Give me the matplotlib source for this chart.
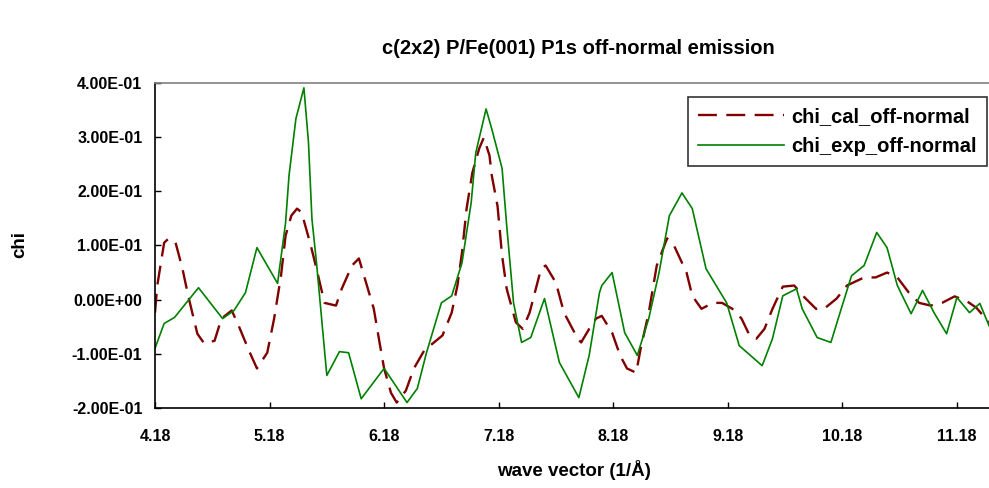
#!/usr/bin/env python3
"""
Plot P1s photoelectron diffraction chi(k), off-normal emission
- calculated vs experimental chi curves
"""

import matplotlib
matplotlib.use('Agg')
import matplotlib.pyplot as plt
from matplotlib.ticker import FuncFormatter

# calculated chi (dashed)
cal_k = [4.18, 4.20, 4.26, 4.30, 4.36, 4.42, 4.47, 4.55, 4.61, 4.70,
         4.76, 4.85, 4.91, 5.00, 5.07, 5.16, 5.22, 5.28, 5.32, 5.37,
         5.42, 5.46, 5.54, 5.59, 5.66, 5.76, 5.81, 5.90, 5.96, 6.03,
         6.09, 6.14, 6.18, 6.24, 6.29, 6.37, 6.44, 6.53, 6.69, 6.77,
         6.82, 6.86, 6.90, 6.95, 7.01, 7.05, 7.10, 7.12, 7.17, 7.21,
         7.25, 7.33, 7.39, 7.45, 7.55, 7.59, 7.68, 7.75, 7.87, 7.90,
         7.97, 8.03, 8.08, 8.17, 8.24, 8.30, 8.38, 8.42, 8.49, 8.56,
         8.65, 8.71, 8.82, 8.87, 8.95, 9.05, 9.13, 9.22, 9.30, 9.37,
         9.43, 9.50, 9.57, 9.66, 9.76, 9.85, 9.95, 10.02, 10.13, 10.22,
         10.37, 10.47, 10.57, 10.66, 10.76, 10.85, 10.95, 11.05, 11.16, 11.26,
         11.35, 11.46]
cal_chi = [-0.024, 0.026, 0.105, 0.113, 0.105, 0.057, 0.007, -0.063, -0.081, -0.076,
           -0.035, -0.020, -0.048, -0.094, -0.127, -0.098, -0.035, 0.044, 0.118, 0.155,
           0.168, 0.161, 0.100, 0.057, -0.006, -0.011, 0.020, 0.063, 0.076, 0.026,
           -0.017, -0.079, -0.127, -0.172, -0.190, -0.168, -0.127, -0.094, -0.066, -0.024,
           0.026, 0.087, 0.168, 0.234, 0.279, 0.299, 0.266, 0.229, 0.173, 0.081,
           0.020, -0.042, -0.054, -0.024, 0.057, 0.063, 0.031, -0.024, -0.072, -0.079,
           -0.054, -0.035, -0.030, -0.061, -0.103, -0.127, -0.135, -0.090, -0.024, 0.063,
           0.113, 0.100, 0.050, 0.007, -0.017, -0.006, -0.006, -0.017, -0.035, -0.066,
           -0.072, -0.054, -0.017, 0.024, 0.026, 0.004, -0.017, -0.017, 0.002, 0.026,
           0.041, 0.041, 0.050, 0.041, 0.013, -0.006, -0.011, -0.006, 0.006, -0.002,
           -0.015, -0.042]

# experimental chi (solid)
exp_k = [4.18, 4.26, 4.35, 4.56, 4.77, 4.87, 4.97, 5.07, 5.25, 5.32,
         5.35, 5.41, 5.48, 5.52, 5.55, 5.59, 5.68, 5.79, 5.87, 5.98,
         6.18, 6.38, 6.47, 6.55, 6.68, 6.77, 6.86, 6.94, 6.98, 7.07,
         7.12, 7.21, 7.25, 7.31, 7.38, 7.46, 7.58, 7.71, 7.88, 7.97,
         8.06, 8.08, 8.17, 8.28, 8.39, 8.49, 8.58, 8.67, 8.78, 8.87,
         8.99, 9.17, 9.28, 9.48, 9.57, 9.66, 9.78, 9.83, 9.96, 10.08,
         10.17, 10.26, 10.37, 10.48, 10.57, 10.66, 10.78, 10.88, 10.98, 11.09,
         11.18, 11.29, 11.38, 11.46]
exp_chi = [-0.090, -0.044, -0.033, 0.022, -0.035, -0.020, 0.013, 0.096, 0.030, 0.142,
           0.229, 0.334, 0.391, 0.290, 0.149, 0.068, -0.140, -0.096, -0.098, -0.183,
           -0.127, -0.190, -0.164, -0.098, -0.006, 0.007, 0.068, 0.179, 0.271, 0.352,
           0.315, 0.242, 0.137, -0.006, -0.079, -0.070, 0.002, -0.116, -0.181, -0.103,
           0.013, 0.026, 0.050, -0.061, -0.103, -0.035, 0.050, 0.155, 0.197, 0.168,
           0.057, -0.006, -0.085, -0.122, -0.072, 0.007, 0.020, -0.017, -0.070, -0.079,
           -0.017, 0.044, 0.063, 0.124, 0.096, 0.026, -0.026, 0.017, -0.024, -0.063,
           0.004, -0.024, -0.007, -0.048]

x_ticks = [4.18, 5.18, 6.18, 7.18, 8.18, 9.18, 10.18, 11.18]
x_tick_labels = ['4.18', '5.18', '6.18', '7.18', '8.18', '9.18', '10.18', '11.18']
y_ticks = [-0.2, -0.1, 0.0, 0.1, 0.2, 0.3, 0.4]

plt.rcParams['font.family'] = ['Liberation Sans', 'DejaVu Sans']
plt.rcParams['font.weight'] = 'bold'


def plot_chi(output_file):
    fig = plt.figure(figsize=(9.89, 4.88), dpi=100)
    ax = fig.add_axes([0.1567, 0.164, 0.8433, 0.666])

    ax.plot(cal_k, cal_chi, color='#800000', linewidth=1.7,
            dashes=(8, 4), label='chi_cal_off-normal')
    ax.plot(exp_k, exp_chi, color='#008000', linewidth=1.2,
            label='chi_exp_off-normal')

    ax.set_xlim(4.18, 11.46)
    ax.set_ylim(-0.2, 0.4)
    ax.set_xticks(x_ticks)
    ax.set_xticklabels(x_tick_labels)
    ax.set_yticks(y_ticks)
    ax.yaxis.set_major_formatter(FuncFormatter(lambda v, p: f'{v:.2E}'))
    ax.tick_params(direction='in', length=4, width=1, labelsize=11.5)
    ax.tick_params(axis='y', pad=9)
    ax.tick_params(axis='x', pad=15)

    for side in ['left', 'bottom']:
        ax.spines[side].set_linewidth(1.2)
        ax.spines[side].set_color('black')
    ax.spines['top'].set_color('#808080')
    ax.spines['top'].set_linewidth(1.2)
    ax.spines['right'].set_visible(False)

    leg = ax.legend(loc='upper right', bbox_to_anchor=(0.9976, 0.957),
                    fontsize=14.5, frameon=True, fancybox=False,
                    handlelength=4.3, handletextpad=0.35, borderpad=0.5,
                    labelspacing=0.55, borderaxespad=0)
    leg.get_frame().set_edgecolor('black')
    leg.get_frame().set_linewidth(1.2)

    fig.text(0.585, 0.90, 'c(2x2) P/Fe(001) P1s off-normal emission',
             ha='center', va='center', fontsize=14.5, fontweight='bold')
    fig.text(0.58, 0.037, 'wave vector (1/Å)', ha='center', va='center',
             fontsize=13.5, fontweight='bold')
    fig.text(0.02, 0.498, 'chi', ha='center', va='center', rotation=90,
             fontsize=13.5, fontweight='bold')

    fig.savefig(output_file, dpi=100)
    plt.close(fig)


def main():
    plot_chi('out.png')


if __name__ == "__main__":
    main()
